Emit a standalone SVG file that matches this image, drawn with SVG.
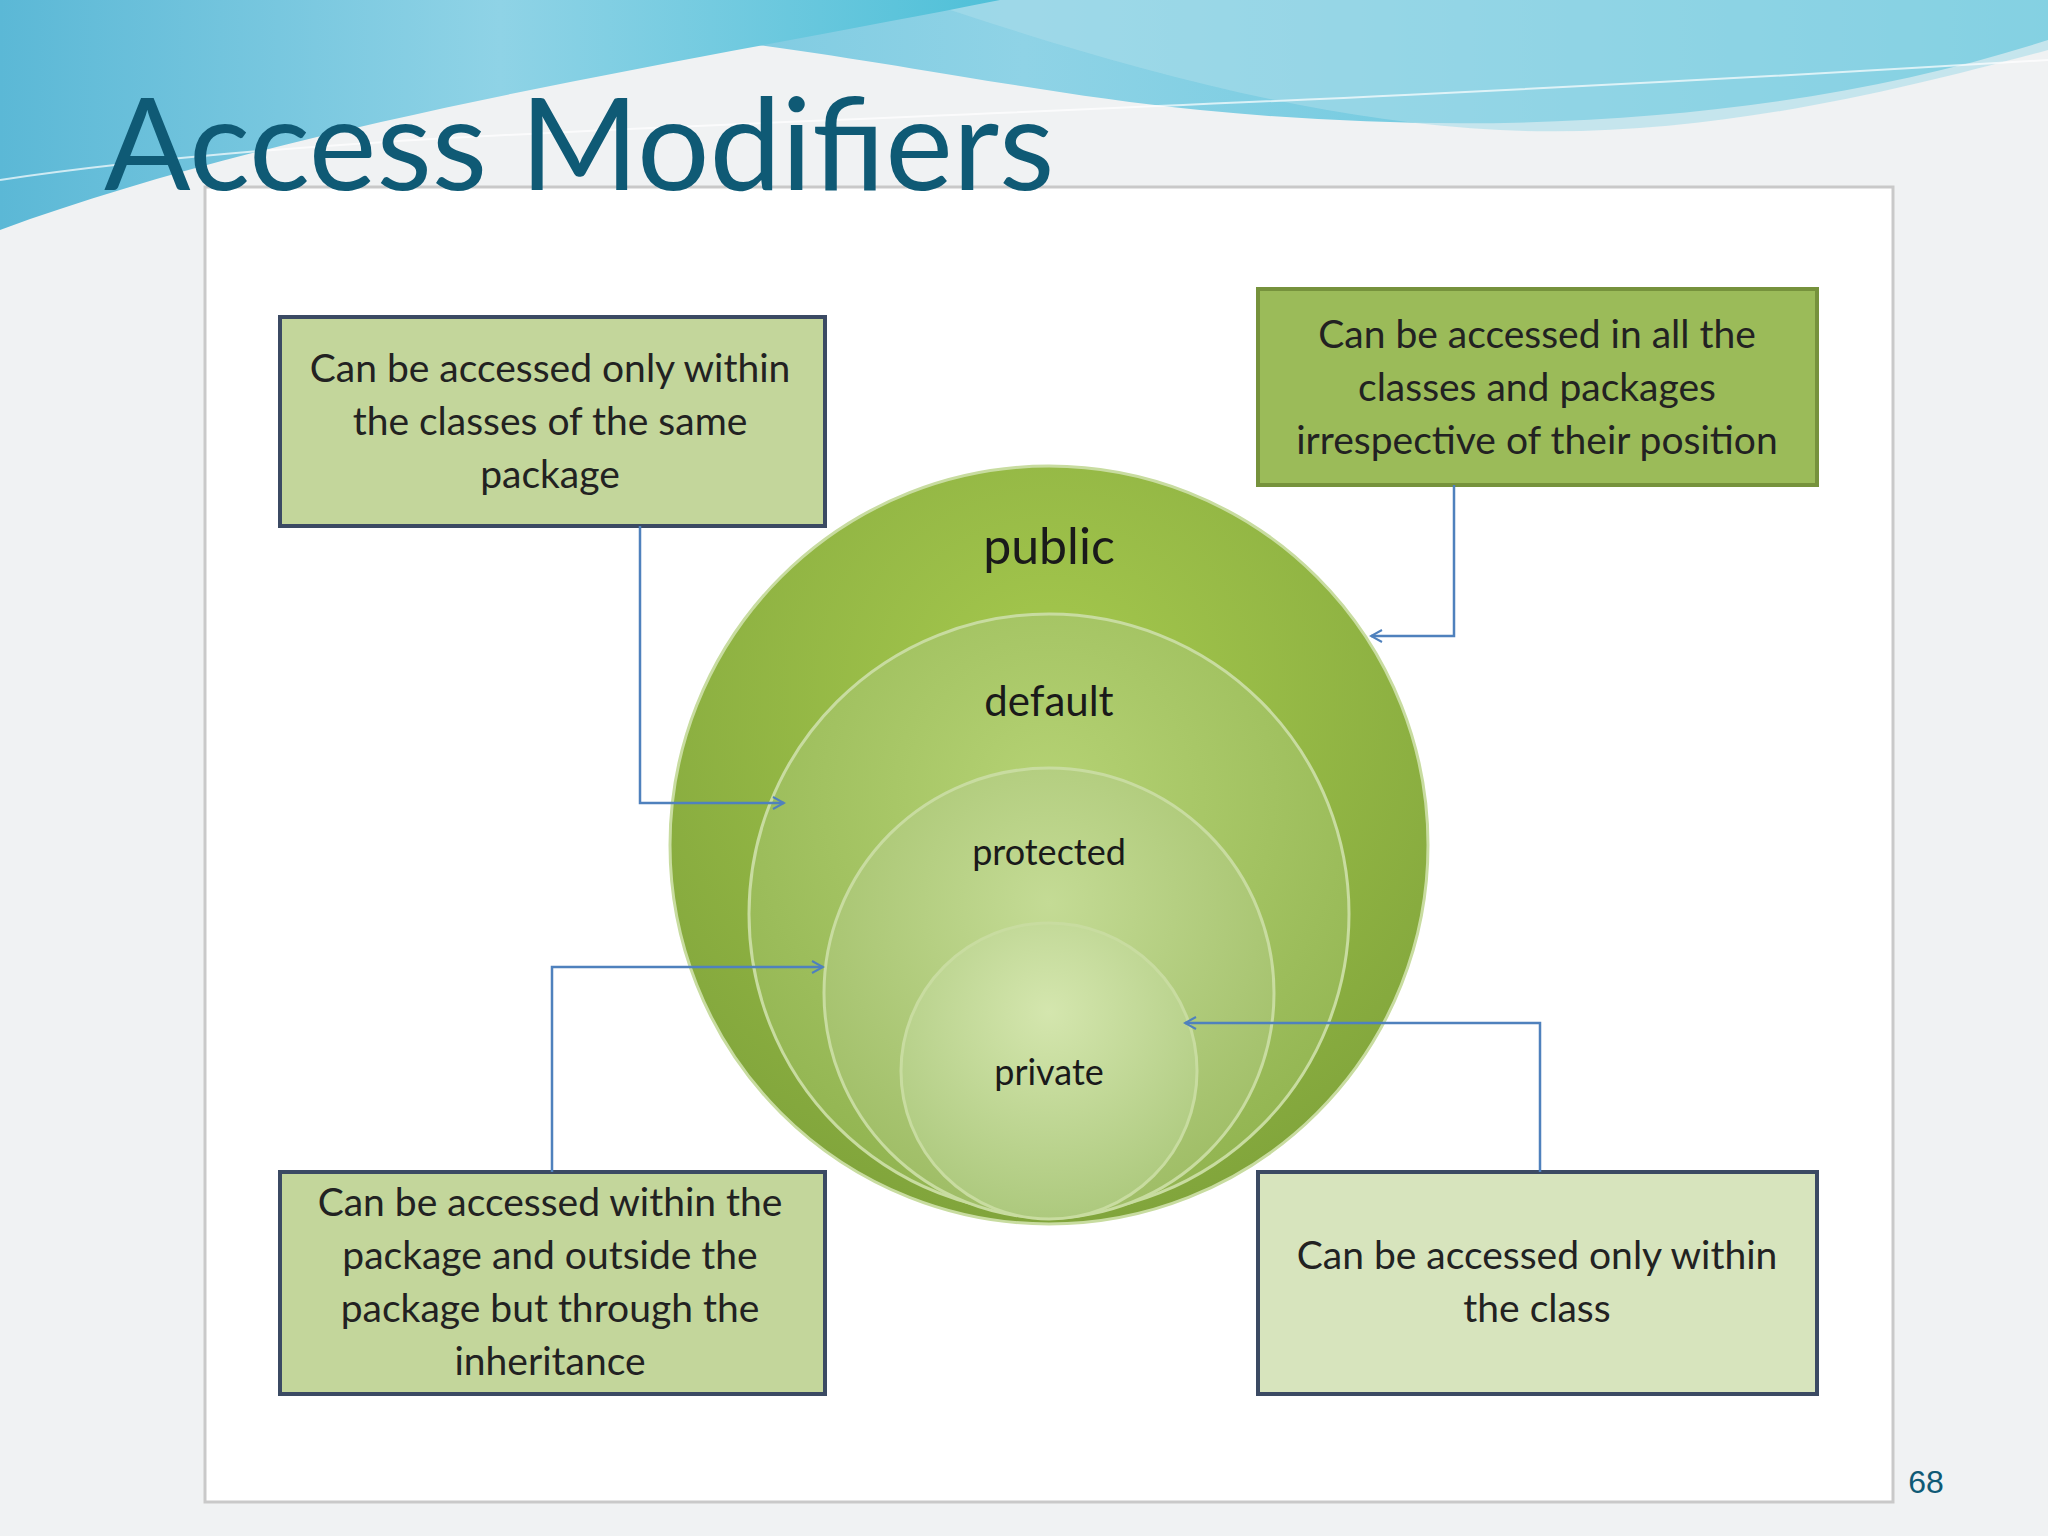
<svg xmlns="http://www.w3.org/2000/svg" width="2048" height="1536" viewBox="0 0 2048 1536">
<defs>
<linearGradient id="sky" x1="0" y1="0" x2="1" y2="0"><stop offset="0" stop-color="#5bb8d6"/><stop offset="0.5" stop-color="#8fd3e6"/><stop offset="1" stop-color="#4fc0d8"/></linearGradient>
<radialGradient id="g1" cx="0.5" cy="0.3" r="0.75"><stop offset="0" stop-color="#a6c94e"/><stop offset="1" stop-color="#7ea23a"/></radialGradient>
<radialGradient id="g2" cx="0.5" cy="0.3" r="0.75"><stop offset="0" stop-color="#b5d274"/><stop offset="1" stop-color="#8fb24e"/></radialGradient>
<radialGradient id="g3" cx="0.5" cy="0.3" r="0.75"><stop offset="0" stop-color="#c4db95"/><stop offset="1" stop-color="#9cbb62"/></radialGradient>
<radialGradient id="g4" cx="0.5" cy="0.3" r="0.75"><stop offset="0" stop-color="#d4e6ae"/><stop offset="1" stop-color="#aac77a"/></radialGradient>
<marker id="ar" markerWidth="14" markerHeight="14" refX="12" refY="7" orient="auto" markerUnits="userSpaceOnUse"><path d="M1,1 L12,7 L1,13" fill="none" stroke="#4f81bd" stroke-width="2"/></marker>
<style>
.bt{font-family:Lato,"Open Sans",sans-serif;font-size:39px;fill:#222;text-anchor:middle}
.ct{font-family:Lato,"Open Sans",sans-serif;fill:#1a1a1a;text-anchor:middle}
.box{stroke:#3b4a63;stroke-width:4}
.cn{fill:none;stroke:#4f81bd;stroke-width:2.5;marker-end:url(#ar)}
.circ{stroke:#c8dca0;stroke-width:3}
</style>
</defs>
<rect width="2048" height="1536" fill="#f0f2f3"/>
<path d="M0,0 H2048 V40 C1800,120 1500,140 1200,110 C900,80 700,0 0,0 Z" fill="url(#sky)"/>
<path d="M0,0 H920 C1100,60 1300,120 1500,130 C1700,140 1900,90 2048,50 V0 Z" fill="#a8dcea" opacity="0.6"/>
<path d="M0,0 H1000 C700,60 300,120 0,230 Z" fill="url(#sky)"/>
<path d="M0,180 C400,120 900,130 2048,60" fill="none" stroke="#ffffff" stroke-width="2" opacity="0.7"/>
<rect x="205" y="187" width="1688" height="1315" fill="#ffffff" stroke="#c9c9c9" stroke-width="3"/>
<text x="104" y="190" font-family="Lato,'Open Sans',sans-serif" font-size="128" fill="#0f5a75">Access Modifiers</text>
<g id="public"><circle class="circ" cx="1049" cy="845" r="379" fill="url(#g1)"/><text class="ct" x="1049" y="564" font-size="50">public</text></g>
<g id="default"><circle class="circ" cx="1049" cy="914" r="300" fill="url(#g2)"/><text class="ct" x="1049" y="716" font-size="42">default</text></g>
<g id="protected"><circle class="circ" cx="1049" cy="993" r="225" fill="url(#g3)"/><text class="ct" x="1049" y="865" font-size="36">protected</text></g>
<g id="private"><circle class="circ" cx="1049" cy="1071" r="148" fill="url(#g4)"/><text class="ct" x="1049" y="1085" font-size="36">private</text></g>
<g id="tl"><rect class="box" x="280" y="317" width="545" height="209" fill="#c3d69b"/>
<text class="bt" x="550" y="382">Can be accessed only within</text><text class="bt" x="550" y="435">the classes of the same</text><text class="bt" x="550" y="488">package</text></g>
<g id="tr"><rect x="1258" y="289" width="559" height="196" fill="#9bbb59" stroke="#76923c" stroke-width="4"/>
<text class="bt" x="1537" y="348">Can be accessed in all the</text><text class="bt" x="1537" y="401">classes and packages</text><text class="bt" x="1537" y="454">irrespective of their position</text></g>
<g id="bl"><rect class="box" x="280" y="1172" width="545" height="222" fill="#c3d69b"/>
<text class="bt" x="550" y="1216">Can be accessed  within the</text><text class="bt" x="550" y="1269">package and outside the</text><text class="bt" x="550" y="1322">package but through the</text><text class="bt" x="550" y="1375">inheritance</text></g>
<g id="br"><rect class="box" x="1258" y="1172" width="559" height="222" fill="#d7e4bd"/>
<text class="bt" x="1537" y="1269">Can be accessed only within</text><text class="bt" x="1537" y="1322">the class</text></g>
<g id="connectors">
<path class="cn" d="M640,526 V803 H784"/>
<path class="cn" d="M1454,485 V636 H1371"/>
<path class="cn" d="M552,1172 V967 H823"/>
<path class="cn" d="M1540,1172 V1023 H1185"/>
</g>
<text x="1926" y="1493" font-family="'Liberation Sans',sans-serif" font-size="32" fill="#0f5a75" text-anchor="middle">68</text>
</svg>
